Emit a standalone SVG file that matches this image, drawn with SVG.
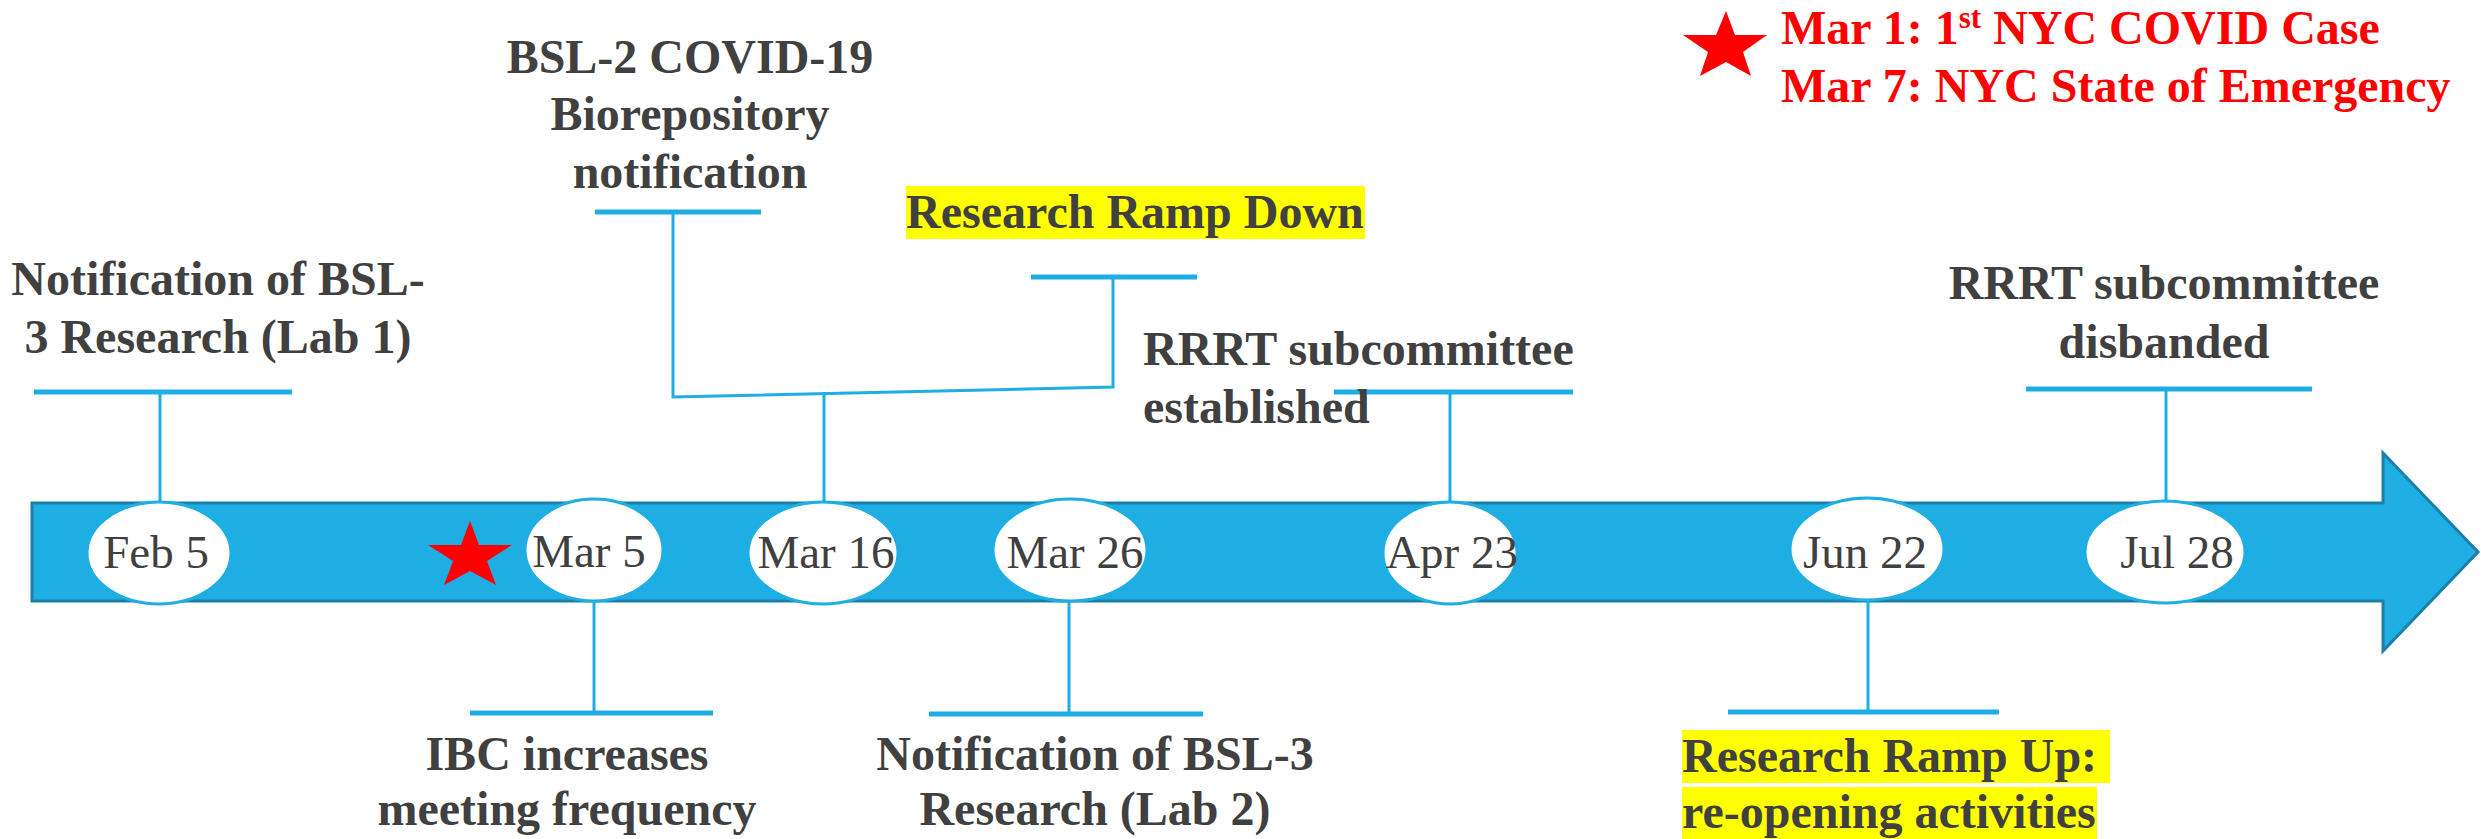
<svg xmlns="http://www.w3.org/2000/svg" width="2481" height="839" viewBox="0 0 2481 839">
<style>
.lbl{font-family:"Liberation Serif","Times New Roman",serif;font-weight:bold;font-size:48px;fill:#404040}
.date{font-family:"Liberation Serif","Times New Roman",serif;font-size:47px;fill:#404040;text-anchor:middle}
.red{font-family:"Liberation Serif","Times New Roman",serif;font-weight:bold;font-size:48px;fill:#ff0000}
.mid{text-anchor:middle}
.hl{fill:#ffff00}
.bar{stroke:#1eaee3;stroke-width:5;fill:none}
.ln{stroke:#1eaee3;stroke-width:3;fill:none}
.oval{fill:#ffffff;stroke:#1eaee3;stroke-width:3}
.star{fill:#ff0000}
</style>
<rect width="2481" height="839" fill="#ffffff"/>
<g id="timeline-arrow">
<polygon points="32,503 2383,503 2383,453 2478,552 2383,651 2383,601 32,601" fill="#1eaee3" stroke="#1a80a8" stroke-width="3"/>
</g>
<g id="connectors">
<line class="bar" x1="34" y1="392" x2="292" y2="392"/>
<line class="ln" x1="160" y1="392" x2="160" y2="502"/>
<line class="bar" x1="595" y1="212" x2="761" y2="212"/>
<polyline class="ln" points="673,212 673,397 1113,387 1113,277"/>
<line class="bar" x1="1031" y1="277" x2="1197" y2="277"/>
<line class="ln" x1="824" y1="392" x2="824" y2="502"/>
<line class="bar" x1="1334" y1="392" x2="1573" y2="392"/>
<line class="ln" x1="1450" y1="392" x2="1450" y2="502"/>
<line class="bar" x1="2026" y1="389" x2="2312" y2="389"/>
<line class="ln" x1="2166" y1="389" x2="2166" y2="501"/>
<line class="ln" x1="594" y1="601" x2="594" y2="713"/>
<line class="bar" x1="470" y1="713" x2="713" y2="713"/>
<line class="ln" x1="1069" y1="602" x2="1069" y2="714"/>
<line class="bar" x1="929" y1="714" x2="1203" y2="714"/>
<line class="ln" x1="1868" y1="600" x2="1868" y2="712"/>
<line class="bar" x1="1728" y1="712" x2="1999" y2="712"/>
</g>
<g id="feb5">
<ellipse class="oval" cx="159" cy="553" rx="72" ry="51"/>
<text class="date" x="156" y="568">Feb 5</text>
</g>
<g id="star-timeline">
<polygon class="star" points="470,521 479,545 512,545 487,561 496,585 470,571 444,585 453,561 428,545 461,545"/>
</g>
<g id="mar5">
<ellipse class="oval" cx="594" cy="550" rx="69" ry="51"/>
<text class="date" x="589" y="567">Mar 5</text>
</g>
<g id="mar16">
<ellipse class="oval" cx="823" cy="553" rx="75" ry="51"/>
<text class="date" x="826" y="568">Mar 16</text>
</g>
<g id="mar26">
<ellipse class="oval" cx="1070" cy="550" rx="77" ry="51"/>
<text class="date" x="1075" y="568">Mar 26</text>
</g>
<g id="apr23">
<ellipse class="oval" cx="1450" cy="553" rx="67" ry="51"/>
<text class="date" x="1452" y="568">Apr 23</text>
</g>
<g id="jun22">
<ellipse class="oval" cx="1867" cy="549" rx="77" ry="51"/>
<text class="date" x="1865" y="568">Jun 22</text>
</g>
<g id="jul28">
<ellipse class="oval" cx="2165" cy="552" rx="80" ry="51"/>
<text class="date" x="2177" y="568">Jul 28</text>
</g>
<g id="label-bsl3-lab1">
<text class="lbl mid" x="218" y="295">Notification of BSL-</text>
<text class="lbl mid" x="218" y="353">3 Research (Lab 1)</text>
</g>
<g id="label-bsl2">
<text class="lbl mid" x="690" y="73">BSL-2 COVID-19</text>
<text class="lbl mid" x="690" y="130">Biorepository</text>
<text class="lbl mid" x="690" y="188">notification</text>
</g>
<g id="label-rampdown">
<rect class="hl" x="906" y="186" width="459" height="53"/>
<text class="lbl" x="906" y="228">Research Ramp Down</text>
</g>
<g id="label-rrrt-established">
<text class="lbl" x="1143" y="365">RRRT subcommittee</text>
<text class="lbl" x="1143" y="423">established</text>
</g>
<g id="label-rrrt-disbanded">
<text class="lbl mid" x="2164" y="299">RRRT subcommittee</text>
<text class="lbl mid" x="2164" y="358">disbanded</text>
</g>
<g id="label-ibc">
<text class="lbl mid" x="567" y="770">IBC increases</text>
<text class="lbl mid" x="567" y="825">meeting frequency</text>
</g>
<g id="label-bsl3-lab2">
<text class="lbl mid" x="1095" y="770">Notification of BSL-3</text>
<text class="lbl mid" x="1095" y="825">Research (Lab 2)</text>
</g>
<g id="label-rampup">
<rect class="hl" x="1682" y="730" width="428" height="53"/>
<rect class="hl" x="1682" y="787" width="415" height="52"/>
<text class="lbl" x="1682" y="772">Research Ramp Up:</text>
<text class="lbl" x="1682" y="828">re-opening activities</text>
</g>
<g id="legend">
<polygon class="star" points="1726,11 1735,35 1767,35 1743,52 1751,76 1726,62 1700,76 1708,52 1683,35 1716,35"/>
<text class="red" x="1781" y="44">Mar 1: 1<tspan font-size="31" dy="-16">st</tspan><tspan dy="16"> NYC COVID Case</tspan></text>
<text class="red" x="1781" y="102">Mar 7: NYC State of Emergency</text>
</g>
</svg>
